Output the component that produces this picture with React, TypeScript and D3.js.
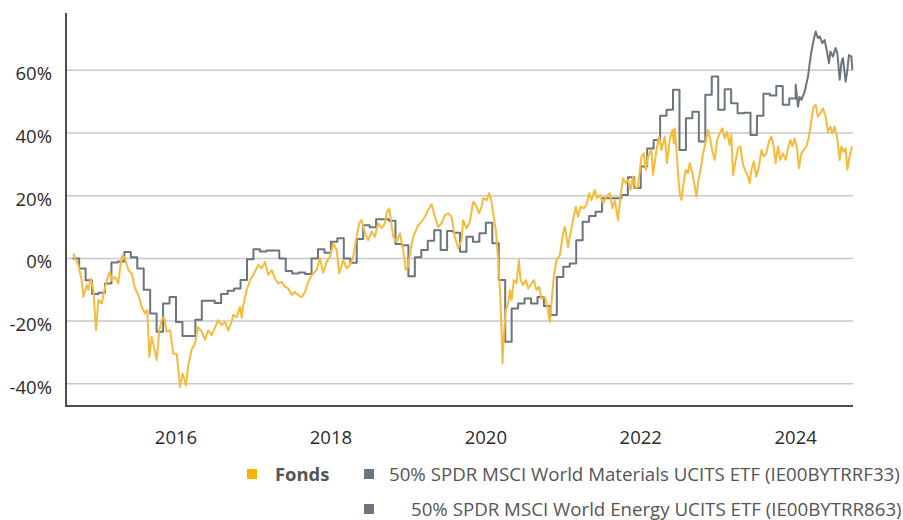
import * as d3 from 'd3';

// axis ticks
const yTicks = [-40, -20, 0, 20, 40, 60];
const xTicks = [2016, 2018, 2020, 2022, 2024];

// benchmark: month-end values from Sep 2014 (step line), then daily from 2024
const benchStart = 2014 + 8 / 12;
const benchMonthly = [
  0, -3.2, -7, -11.4, -11, -8, -1.3, -1, 2, 0.4, -3.2, -10,
  -17.6, -23.4, -14.4, -12.3, -20.3, -24.8, -24.8, -19.6, -13.5, -13.5, -14.2, -11.4,
  -10.3, -9.6, -6.9, -0.3, 2.9, 2.2, 2.5, 2.5, 0, -4, -4.8, -4.5,
  -5, 0, 2.9, 1.8, 5.3, 6.4, 0, -1.4, 6.2, 10.6, 9.9, 12.5,
  12.5, 12, 4.6, 4.2, -5.7, 0.4, 2.7, 5.6, 9, 2.7, 8.7, 8.2,
  2.1, 6.9, 5.3, 8, 11.4, 4.8, -6.9, -26.6, -16, -14.4, -12.8, -14.4,
  -12.3, -15.2, -18.1, -5.9, -2.7, -1.6, 5.8, 11.7, 13.5, 14.9, 19.2, 19.2,
  19.2, 20.2, 25.9, 22.5, 29.3, 35.1, 37.8, 45.5, 47.4, 53.8, 34.6, 44.7,
  46.8, 37.3, 52.2, 58, 47.4, 54, 49.5, 46.3, 46.5, 39.4, 45.5, 52.5,
  52, 55, 49, 51,
];
const benchDaily: [number, number][] = [
  [2024.0, 55.4], [2024.03, 48.4], [2024.05, 51.6], [2024.074, 50.6], [2024.116, 53.2],
  [2024.159, 58], [2024.181, 62.3], [2024.203, 66], [2024.232, 69.7], [2024.258, 72.4],
  [2024.288, 70.3], [2024.31, 70.8], [2024.345, 68.7], [2024.374, 69.7], [2024.404, 66],
  [2024.43, 62.3], [2024.448, 66], [2024.481, 64.4], [2024.516, 67.1], [2024.538, 65.5],
  [2024.568, 57], [2024.59, 62.3], [2024.61, 63.9], [2024.645, 56.4], [2024.667, 60.1],
  [2024.688, 64.9], [2024.719, 64.4], [2024.732, 60.1],
];

// fund performance in % (decimal year, value)
const fonds: [number, number][] = [
  [2014.675, 1.6], [2014.697, 0], [2014.739, -2.1], [2014.783, -7], [2014.804, -12.3],
  [2014.848, -8.5], [2014.868, -10], [2014.899, -6.4], [2014.933, -10], [2014.968, -22.9],
  [2014.997, -13.3], [2015.041, -14.4], [2015.062, -11.7], [2015.106, -7], [2015.148, -4.3],
  [2015.17, -7], [2015.213, -5.9], [2015.255, -8], [2015.286, -1.6], [2015.307, 1],
  [2015.342, 0], [2015.385, -3.7], [2015.428, -4.8], [2015.471, -9.6], [2015.514, -11.7],
  [2015.557, -15.5], [2015.6, -17.6], [2015.63, -16.5], [2015.655, -31.4], [2015.686, -25],
  [2015.716, -28.2], [2015.751, -32.5], [2015.785, -22.9], [2015.815, -19.7], [2015.845, -18.7],
  [2015.88, -23.4], [2015.923, -22.9], [2015.965, -30.4], [2016.009, -30.4], [2016.052, -41],
  [2016.086, -36.7], [2016.129, -40.5], [2016.159, -34], [2016.203, -29], [2016.245, -27.2],
  [2016.284, -21.9], [2016.332, -23.4], [2016.374, -26], [2016.413, -23], [2016.461, -24.5],
  [2016.503, -22], [2016.546, -19.7], [2016.59, -21.3], [2016.632, -20.2], [2016.675, -23],
  [2016.719, -20.2], [2016.739, -18], [2016.783, -18.7], [2016.826, -15.5], [2016.848, -19],
  [2016.868, -15], [2016.912, -10], [2016.955, -7], [2016.997, -5.3], [2017.062, -2.1],
  [2017.106, -3.2], [2017.148, -1.1], [2017.191, -5.3], [2017.235, -3.7], [2017.277, -6.4],
  [2017.32, -8], [2017.364, -7.5], [2017.406, -9], [2017.449, -9.6], [2017.493, -11.7],
  [2017.535, -10.7], [2017.578, -11.7], [2017.622, -12.5], [2017.665, -10.7], [2017.707, -7.5],
  [2017.751, -5.3], [2017.815, -3.7], [2017.858, 0], [2017.901, -4.5], [2017.944, -1.1],
  [2017.987, 0.5], [2018.03, 4.8], [2018.074, 2.7], [2018.107, -4.8], [2018.159, -0.5],
  [2018.203, -3.2], [2018.245, -2.1], [2018.288, 0.5], [2018.323, 5.8], [2018.365, 11.2],
  [2018.396, 12.2], [2018.439, 8], [2018.481, 5.8], [2018.525, 8.5], [2018.568, 6.9],
  [2018.61, 11.2], [2018.654, 9.6], [2018.697, 11.2], [2018.719, 14.4], [2018.752, 16],
  [2018.774, 12.2], [2018.804, 6.9], [2018.848, 5.3], [2018.89, 8], [2018.933, 2.7],
  [2018.968, -3.7], [2018.997, -2.7], [2019.028, 2.7], [2019.062, 6.9], [2019.126, 10.6],
  [2019.17, 11.7], [2019.213, 13.3], [2019.255, 15.4], [2019.299, 17.3], [2019.342, 13.3],
  [2019.385, 10.1], [2019.428, 11.2], [2019.471, 13.8], [2019.514, 14.4], [2019.557, 13.3],
  [2019.6, 6.9], [2019.643, 3.2], [2019.686, 5.8], [2019.707, 12.2], [2019.751, 9.6],
  [2019.794, 11.7], [2019.836, 18.1], [2019.88, 16.5], [2019.914, 14.4], [2019.945, 16.5],
  [2019.965, 19.2], [2020.009, 18.6], [2020.043, 20.8], [2020.074, 18.1], [2020.094, 14.4],
  [2020.129, 9], [2020.159, -0.5], [2020.181, -9.1], [2020.203, -22.9], [2020.215, -33.5],
  [2020.232, -25], [2020.258, -16.5], [2020.288, -14.4], [2020.31, -10.1], [2020.332, -13.3],
  [2020.361, -6.9], [2020.396, -8], [2020.426, -0.5], [2020.448, -6.9], [2020.481, -8.5],
  [2020.516, -6.9], [2020.546, -9.6], [2020.59, -8], [2020.619, -6.9], [2020.654, -10.1],
  [2020.688, -9.1], [2020.719, -12.8], [2020.761, -12.3], [2020.791, -14.9], [2020.826, -20.3],
  [2020.848, -13.9], [2020.877, -5.9], [2020.912, -0.5], [2020.955, 1], [2020.997, 8],
  [2021.019, 10.1], [2021.041, 6.9], [2021.061, 3.7], [2021.092, 8], [2021.126, 12.2],
  [2021.161, 16.5], [2021.191, 13.3], [2021.222, 16.5], [2021.265, 16], [2021.299, 17],
  [2021.333, 20.8], [2021.364, 18.6], [2021.406, 21.8], [2021.436, 19.2], [2021.471, 20.2],
  [2021.514, 17.6], [2021.557, 19.7], [2021.6, 20.8], [2021.635, 16], [2021.665, 18.6],
  [2021.707, 12.2], [2021.738, 19.7], [2021.772, 25.6], [2021.806, 24], [2021.836, 25],
  [2021.867, 21.8], [2021.901, 26.1], [2021.935, 22.4], [2021.965, 22.9], [2022.009, 32.5],
  [2022.039, 33.5], [2022.065, 28.2], [2022.094, 32.5], [2022.138, 34.6], [2022.159, 26.6],
  [2022.203, 34.6], [2022.236, 38.9], [2022.267, 34.6], [2022.31, 38.9], [2022.339, 30.4],
  [2022.374, 37.8], [2022.409, 41], [2022.426, 36.7], [2022.439, 41.5], [2022.461, 34.6],
  [2022.481, 27.2], [2022.503, 20.8], [2022.525, 18.6], [2022.546, 22.9], [2022.581, 28.2],
  [2022.61, 27.2], [2022.632, 30.4], [2022.667, 27.2], [2022.697, 22.9], [2022.719, 19.7],
  [2022.739, 24], [2022.77, 28.2], [2022.804, 33.5], [2022.839, 37.3], [2022.868, 41],
  [2022.899, 37.8], [2022.925, 34], [2022.955, 31.4], [2022.985, 37.8], [2023.019, 39.9],
  [2023.054, 41.5], [2023.084, 38.3], [2023.114, 40.4], [2023.148, 36.2], [2023.17, 39.4],
  [2023.191, 26.6], [2023.226, 31.4], [2023.255, 35.1], [2023.286, 35.7], [2023.32, 29.8],
  [2023.355, 27.7], [2023.385, 26.1], [2023.406, 24], [2023.428, 28.2], [2023.458, 30.9],
  [2023.493, 26.1], [2023.526, 29.3], [2023.557, 34.6], [2023.587, 32.5], [2023.622, 33.5],
  [2023.655, 37.3], [2023.686, 38.9], [2023.716, 35.7], [2023.742, 30.4], [2023.772, 35.7],
  [2023.803, 31.4], [2023.836, 33.5], [2023.871, 31.4], [2023.901, 35.1], [2023.932, 37.8],
  [2023.957, 35.7], [2023.987, 38.3], [2024.017, 35.1], [2024.043, 28.8], [2024.074, 33.5],
  [2024.103, 34.6], [2024.138, 35.7], [2024.172, 38.9], [2024.203, 44.2], [2024.232, 48.4],
  [2024.258, 49], [2024.288, 45.2], [2024.319, 46.3], [2024.352, 47.9], [2024.387, 45.2],
  [2024.417, 40.4], [2024.448, 42], [2024.474, 39.9], [2024.503, 42], [2024.533, 38.9],
  [2024.568, 31.4], [2024.59, 35.7], [2024.619, 34], [2024.645, 35.1], [2024.667, 28.2],
  [2024.688, 31.4], [2024.719, 35.1], [2024.732, 35.7],
];

const fondsLabel = 'Fonds';
const benchLabels = [
  '50% SPDR MSCI World Materials UCITS ETF (IE00BYTRRF33)',
  '50% SPDR MSCI World Energy UCITS ETF (IE00BYTRR863)',
];

const W = 903;
const H = 520;
const FONT = "'Open Sans', 'Noto Sans', sans-serif";
const ORANGE = '#f7bb3c';
const GREY = '#6b757e';

export default function App() {
  const left = 66;
  const right = 853;
  const top = 13;
  const bottom = 406;

  const x = d3.scaleLinear().domain([2014.58, 2024.74]).range([left, right]);
  const y = d3.scaleLinear().domain([-47.1, 78.3]).range([bottom, top]);

  const line = d3
    .line<[number, number]>()
    .x((d) => x(d[0]))
    .y((d) => y(d[1]));

  // expand monthly benchmark into steps, then the daily tail
  const benchPts: [number, number][] = [];
  benchMonthly.forEach((v, i) => {
    benchPts.push([benchStart + i / 12, v], [benchStart + (i + 1) / 12, v]);
  });
  benchDaily.forEach((p) => benchPts.push(p));

  return (
    <svg
      width={W}
      height={H}
      style={{ position: 'absolute', left: 0, top: 0, display: 'block', background: '#fff' }}
      fontFamily={FONT}
    >
      {/* grid */}
      {yTicks.map((t) => (
        <line key={t} x1={left} x2={right} y1={y(t)} y2={y(t)} stroke="#c9c9c9" strokeWidth={1.5} />
      ))}
      {yTicks.map((t) => (
        <text key={'l' + t} x={52} y={y(t) + 10} textAnchor="end" fontSize={18.5} fill="#2b2b2b">
          {t}%
        </text>
      ))}
      {xTicks.map((t) => (
        <text key={t} x={x(t)} y={444} textAnchor="middle" fontSize={18.5} fill="#2b2b2b">
          {t}
        </text>
      ))}

      <path d={line(benchPts) || ''} fill="none" stroke={GREY} strokeWidth={2} strokeLinejoin="round" />
      <path d={line(fonds) || ''} fill="none" stroke={ORANGE} strokeWidth={2} strokeLinejoin="round" />

      {/* axes */}
      <line x1={left} x2={left} y1={top} y2={bottom} stroke="#4d4d4d" strokeWidth={2} />
      <line x1={left - 1} x2={right} y1={bottom} y2={bottom} stroke="#4d4d4d" strokeWidth={2} />

      {/* legend */}
      <rect x={247} y={469} width={10} height={10} fill="#f5b400" />
      <text x={275} y={481} fontSize={18.4} fontWeight="bold" fill="#555">
        {fondsLabel}
      </text>
      <rect x={364} y={469} width={10} height={10} fill={GREY} />
      <text x={389} y={481} fontSize={18.7} fill="#555">
        {benchLabels[0]}
      </text>
      <rect x={364} y={504} width={10} height={10} fill={GREY} />
      <text x={411} y={516} fontSize={18.7} fill="#555">
        {benchLabels[1]}
      </text>
    </svg>
  );
}
